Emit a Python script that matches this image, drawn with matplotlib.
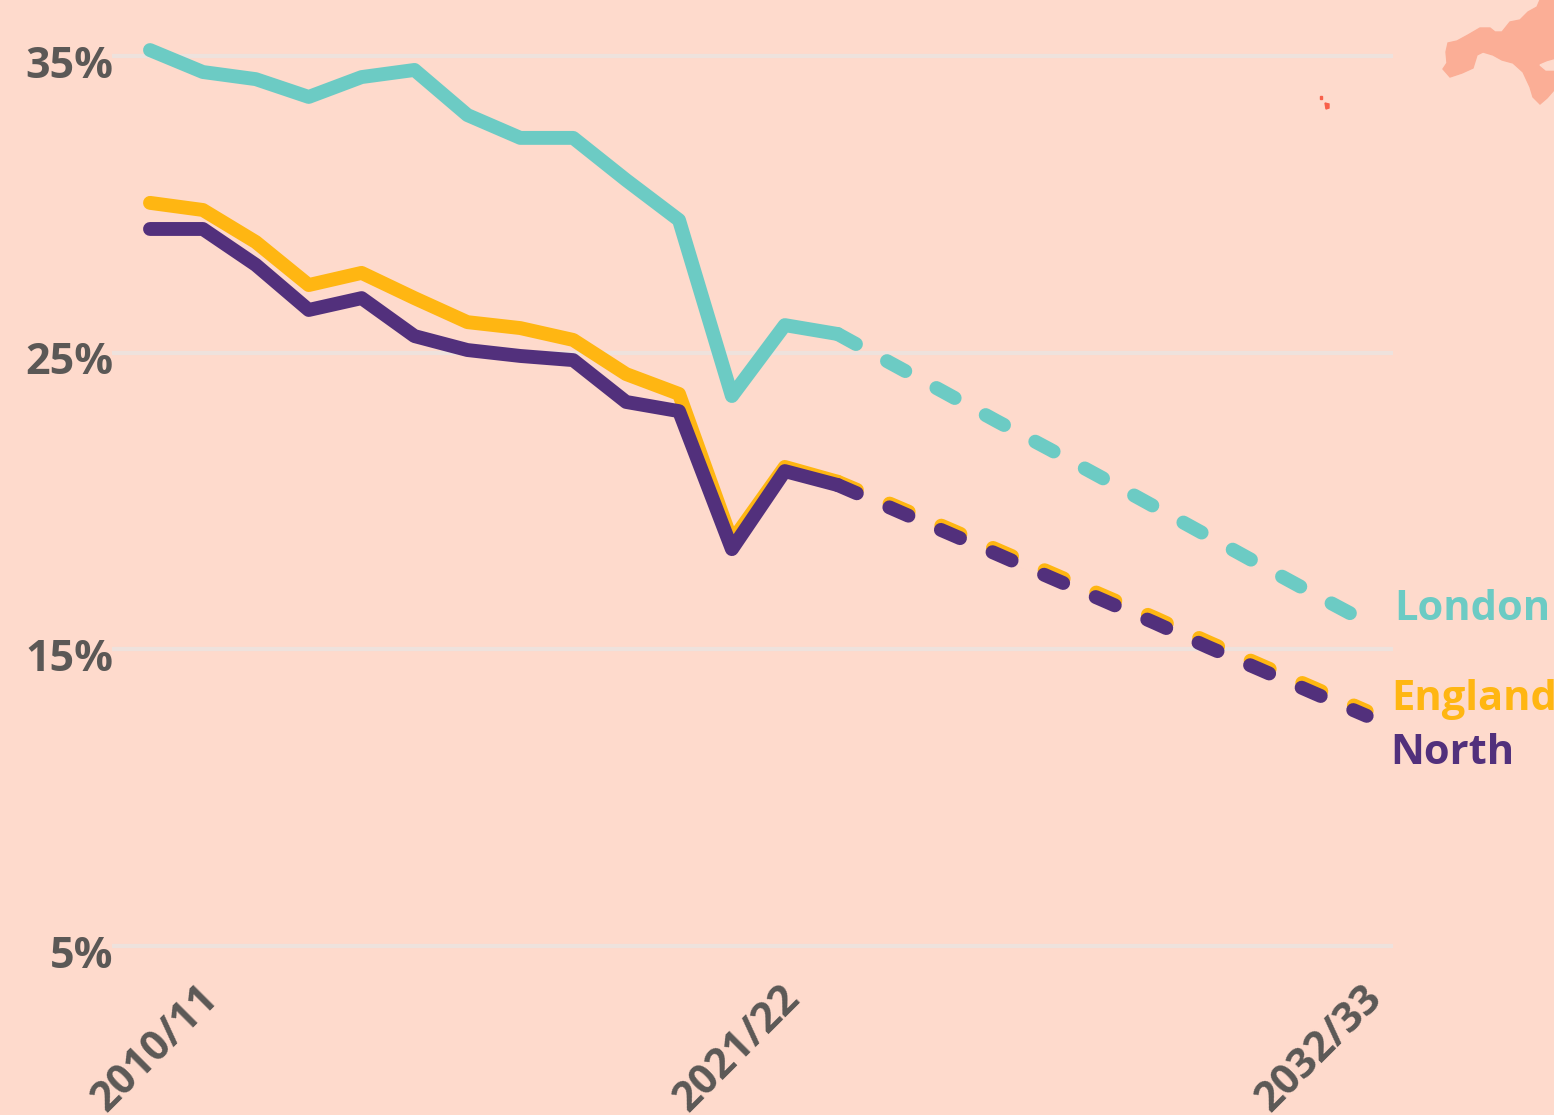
import matplotlib
matplotlib.use('Agg')
import matplotlib.pyplot as plt
from matplotlib.transforms import ScaledTranslation, IdentityTransform
import numpy as np

# 实际值 2010/11 - 2023/24, 之后是预测
london_actual = [35.2, 34.46, 34.22, 33.62, 34.29, 34.53, 33.01, 32.24, 32.24, 30.82, 29.47, 23.54, 25.93, 25.63]
england_actual = [30.05, 29.81, 28.73, 27.28, 27.69, 26.84, 26.03, 25.83, 25.43, 24.28, 23.61, 18.65, 21.15, 20.65]
north_actual = [29.17, 29.17, 27.96, 26.44, 26.84, 25.56, 25.09, 24.89, 24.75, 23.34, 23.03, 18.38, 21.01, 20.54]

london_proj = [25.63, 24.65, 23.68, 22.70, 21.75, 20.78, 19.80, 18.82, 17.84, 16.87, 15.92]
england_proj = [20.65, 19.90, 19.14, 18.37, 17.60, 16.83, 16.06, 15.25, 14.47, 13.70, 12.92]
north_proj = [20.54, 19.77, 18.99, 18.22, 17.44, 16.67, 15.89, 15.08, 14.31, 13.53, 12.76]

y_ticks = [5, 15, 25, 35]
y_labels = ['5%', '15%', '25%', '35%']
x_ticks = [0, 11, 22]
x_labels = ['2010/11', '2021/22', '2032/33']

# 右上角的地图碎片 (像素坐标)
cornwall_x = [1540, 1537, 1528, 1520, 1510, 1502, 1495, 1490, 1480, 1468, 1457, 1448, 1446, 1447, 1443, 1450, 1462, 1473, 1477, 1483, 1493, 1502, 1513, 1523, 1530, 1533, 1540, 1547, 1554, 1554]
cornwall_y = [0, 7, 12, 20, 22, 32, 32, 28, 28, 35, 41, 43, 52, 63, 69, 77, 73, 68, 55, 52, 55, 60, 63, 72, 87, 97, 104, 98, 90, 0]
creek_x = [1540, 1547, 1554, 1554, 1546]
creek_y = [65, 62, 60, 70, 70]
scilly_x = [1325, 1329, 1329, 1326]
scilly_y = [103, 104, 108, 109]
scilly2_x = [1320, 1322, 1322, 1320]
scilly2_y = [96, 96, 99, 99]

BG = '#FEDACC'
GRID = '#EEE2DD'
TEXT = '#5B5856'
LONDON = '#6CCBC4'
ENGLAND = '#FFB612'
NORTH = '#52307C'
MAP = '#FBAE96'

W, H = 1554, 1115
X0, DX = 150, 52.9
Y35, DY = 56, 29.67

plt.rcParams['font.family'] = ['Open Sans', 'DejaVu Sans']

fig = plt.figure(figsize=(W / 100, H / 100), dpi=100, facecolor=BG)
ax = fig.add_axes([0, 0, 1, 1], facecolor=BG)
ax.set_xlim(-X0 / DX, (W - X0) / DX)
ax.set_ylim(35 - (H - Y35) / DY, 35 + Y35 / DY)
for s in ax.spines.values():
    s.set_visible(False)

ax.hlines(y_ticks, (112 - X0) / DX, (1393 - X0) / DX, color=GRID, lw=3, zorder=1)

x_act = np.arange(len(london_actual))
x_proj = np.arange(len(london_proj)) + len(london_actual) - 1
dash = (0, (1.5, 2.55))
lw = 10
series = [(london_actual, london_proj, LONDON),
          (england_actual, england_proj, ENGLAND),
          (north_actual, north_proj, NORTH)]
for actual, proj, color in series:
    ax.plot(x_act, actual, color=color, lw=lw, solid_capstyle='round', solid_joinstyle='round', zorder=3)
    ax.plot(x_proj, proj, color=color, lw=lw, linestyle=dash, dash_capstyle='round', zorder=3)

ax.set_yticks(y_ticks, y_labels)
ax.set_xticks(x_ticks, x_labels)
ax.tick_params(length=0)
for lab in ax.get_yticklabels():
    lab.set(fontsize=31, fontweight='bold', color=TEXT, ha='right', va='center')
    lab.set_transform(lab.get_transform() + ScaledTranslation(118 / 100, -10 / 100, fig.dpi_scale_trans))
for lab in ax.get_xticklabels():
    lab.set(fontsize=30, fontweight='bold', color=TEXT, rotation=45, ha='right', va='top', rotation_mode='anchor')
    lab.set_transform(lab.get_transform() + ScaledTranslation(48 / 100, 142 / 100, fig.dpi_scale_trans))

px = IdentityTransform()
ax.fill(cornwall_x, [H - v for v in cornwall_y], color=MAP, transform=px, zorder=0)
ax.fill(creek_x, [H - v for v in creek_y], color=BG, transform=px, zorder=0)
ax.fill(scilly_x, [H - v for v in scilly_y], color='#F8604A', transform=px, zorder=0)
ax.fill(scilly2_x, [H - v for v in scilly2_y], color='#F8604A', transform=px, zorder=0)

ax.text(1394, H - 609, 'London', color=LONDON, fontsize=30, fontweight='bold', va='center', ha='left', transform=px)
ax.text(1391, H - 700, 'England', color=ENGLAND, fontsize=30, fontweight='bold', va='center', ha='left', transform=px)
ax.text(1390, H - 754, 'North', color=NORTH, fontsize=30, fontweight='bold', va='center', ha='left', transform=px)

fig.savefig('out.png', dpi=100, facecolor=BG)
